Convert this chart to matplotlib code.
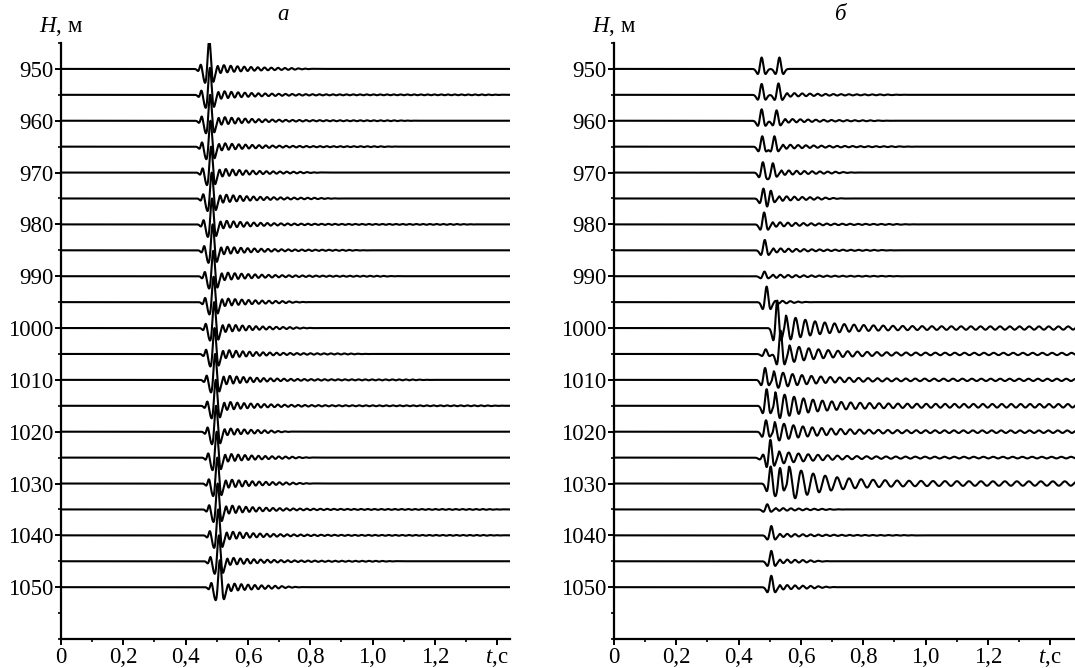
import numpy as np
import matplotlib
matplotlib.use("Agg")
import matplotlib.pyplot as plt
from matplotlib.ticker import MultipleLocator, FixedLocator

plt.rcParams["font.family"] = ["Liberation Serif", "DejaVu Serif"]
plt.rcParams["mathtext.fontset"] = "custom"
plt.rcParams["mathtext.rm"] = "Liberation Serif"
plt.rcParams["mathtext.it"] = "Liberation Serif:italic"

# ---- data ---------------------------------------------------------------
depths = [950, 955, 960, 965, 970, 975, 980, 985, 990, 995, 1000,
          1005, 1010, 1015, 1020, 1025, 1030, 1035, 1040, 1045, 1050]

# panel a: one strong pulse per trace, then ringing
a_peak_t = [0.476, 0.478, 0.479, 0.480, 0.482, 0.484, 0.485, 0.487, 0.489, 0.490, 0.492,
            0.493, 0.495, 0.497, 0.498, 0.500, 0.502, 0.503, 0.505, 0.507, 0.510]
a_peak_amp = [5.6, 5.2, 5.0, 5.0, 5.0, 5.0, 5.0, 5.0, 4.9, 4.9, 5.0,
              5.0, 5.0, 5.0, 5.0, 5.0, 5.0, 5.0, 5.0, 5.0, 5.2]
a_ring_amp = [0.9, 0.85, 0.85, 0.8, 0.85, 0.9, 0.85, 0.85, 0.85, 0.85, 0.85,
              0.9, 0.95, 0.9, 0.75, 0.85, 0.9, 0.9, 0.85, 0.8, 0.85]
a_ring_end = [0.82, 1.44, 1.15, 1.10, 0.85, 0.90, 1.35, 1.00, 1.10, 0.80, 0.82,
              1.00, 1.20, 1.44, 0.75, 0.82, 0.82, 1.44, 1.44, 1.10, 0.78]

# panel b: (time, amplitude) of the pulses on each trace, then ringing
b_events = [
    [(0.474, 2.2), (0.531, 2.2)],
    [(0.474, 2.1), (0.528, 2.2)],
    [(0.474, 2.2), (0.522, 2.0)],
    [(0.476, 2.0), (0.515, 2.0)],
    [(0.478, 2.0), (0.510, 1.8)],
    [(0.480, 2.0), (0.503, 1.6)],
    [(0.482, 2.3)],
    [(0.484, 2.0)],
    [(0.483, 0.9)],
    [(0.490, 3.0)],
    [(0.524, 5.3)],
    [(0.487, 0.9), (0.535, 4.5)],
    [(0.485, 2.3)],
    [(0.490, 3.2)],
    [(0.488, 2.2)],
    [(0.480, 0.8), (0.502, 3.5)],
    [(0.503, 3.3), (0.533, 3.0)],
    [(0.492, 1.0)],
    [(0.505, 1.8)],
    [(0.505, 2.0)],
    [(0.505, 2.2)],
]
b_ring_amp = [0.0, 0.4, 0.4, 0.45, 0.5, 0.5, 0.5, 0.45, 0.35, 0.3, 2.6,
              1.8, 1.8, 2.8, 2.0, 1.3, 3.5, 0.3, 0.35, 0.4, 0.5]
b_ring_freq = [40, 40, 40, 40, 40, 40, 40, 40, 40, 40, 32,
               32, 33, 33, 33, 32, 26, 40, 40, 40, 40]
b_ring_end = [0.58, 0.95, 0.90, 0.98, 0.79, 0.75, 0.98, 0.92, 0.95, 0.64, 1.55,
              1.55, 1.55, 1.55, 1.55, 1.55, 1.55, 0.75, 1.00, 0.70, 0.72]

t_ticks = [0, 0.2, 0.4, 0.6, 0.8, 1.0, 1.2, 1.4]
t_labels = ["0", "0,2", "0,4", "0,6", "0,8", "1,0", "1,2", "$t$,с"]
h_ticks = [950, 960, 970, 980, 990, 1000, 1010, 1020, 1030, 1040, 1050]

FS = 16.5
t = np.arange(0.0, 1.56, 0.0004)


def ricker(t0, f):
    a = (np.pi * f * (t - t0)) ** 2
    return (1 - 2 * a) * np.exp(-a)


def ringing(amp, start, freq, tau, end, tail=0.08):
    dt = t - start
    env = amp * ((1 - tail) * np.exp(-np.clip(dt, 0, None) / tau) + tail)
    env *= np.clip((end - t) / 0.08, 0, 1) * np.clip(dt / 0.008, 0, 1)
    return env * np.sin(2 * np.pi * freq * dt)


def style_axes(ax, xmax):
    ax.set_xlim(0, xmax)
    ax.set_ylim(1060, 945)
    for s in ("top", "right"):
        ax.spines[s].set_visible(False)
    for s in ("left", "bottom"):
        ax.spines[s].set_linewidth(1.6)
    ax.xaxis.set_major_locator(FixedLocator(t_ticks))
    ax.set_xticklabels(t_labels)
    ax.xaxis.set_minor_locator(MultipleLocator(0.1))
    ax.yaxis.set_major_locator(FixedLocator(h_ticks))
    ax.yaxis.set_minor_locator(MultipleLocator(5))
    ax.tick_params(which="major", length=4, width=1.4, labelsize=FS, pad=1.5)
    ax.tick_params(which="minor", length=2.5, width=1.2)
    ax.patch.set_visible(False)


fig = plt.figure(figsize=(10.75, 6.68), dpi=100)
W, Hpx = 1075, 668
bottom = (Hpx - 639) / Hpx
height = (639 - 43) / Hpx
px_per_s = 311.5

ax_a = fig.add_axes([61 / W, bottom, 449 / W, height])
ax_b = fig.add_axes([614 / W, bottom, 470 / W, height])

for i, h in enumerate(depths):
    tp = a_peak_t[i]
    y = a_peak_amp[i] * ricker(tp, 30) + 0.9 * ricker(tp - 0.027, 42)
    y += ringing(a_ring_amp[i], tp + 0.02, 46, 0.11, a_ring_end[i])
    ax_a.plot(t, h - y, color="black", lw=1.5, solid_joinstyle="round")

for i, h in enumerate(depths):
    y = np.zeros_like(t)
    for t0, amp in b_events[i]:
        y += amp * ricker(t0, 31)
    start = b_events[i][-1][0] + 0.02
    y += ringing(b_ring_amp[i], start, b_ring_freq[i], 0.12, b_ring_end[i], tail=0.12)
    ax_b.plot(t, h - y, color="black", lw=1.5, solid_joinstyle="round")

style_axes(ax_a, 449 / px_per_s)
style_axes(ax_b, 470 / px_per_s)

for ax in (ax_a, ax_b):
    x0 = ax.get_position().x0
    fig.text(x0, 1 - 27 / Hpx, "$H$, м", ha="center", va="center", fontsize=FS)

fig.text(283 / W, 1 - 14 / Hpx, "а", ha="center", va="center", fontsize=FS, style="italic")
fig.text(841 / W, 1 - 14 / Hpx, "б", ha="center", va="center", fontsize=FS, style="italic")

fig.savefig("out.png", dpi=100)
